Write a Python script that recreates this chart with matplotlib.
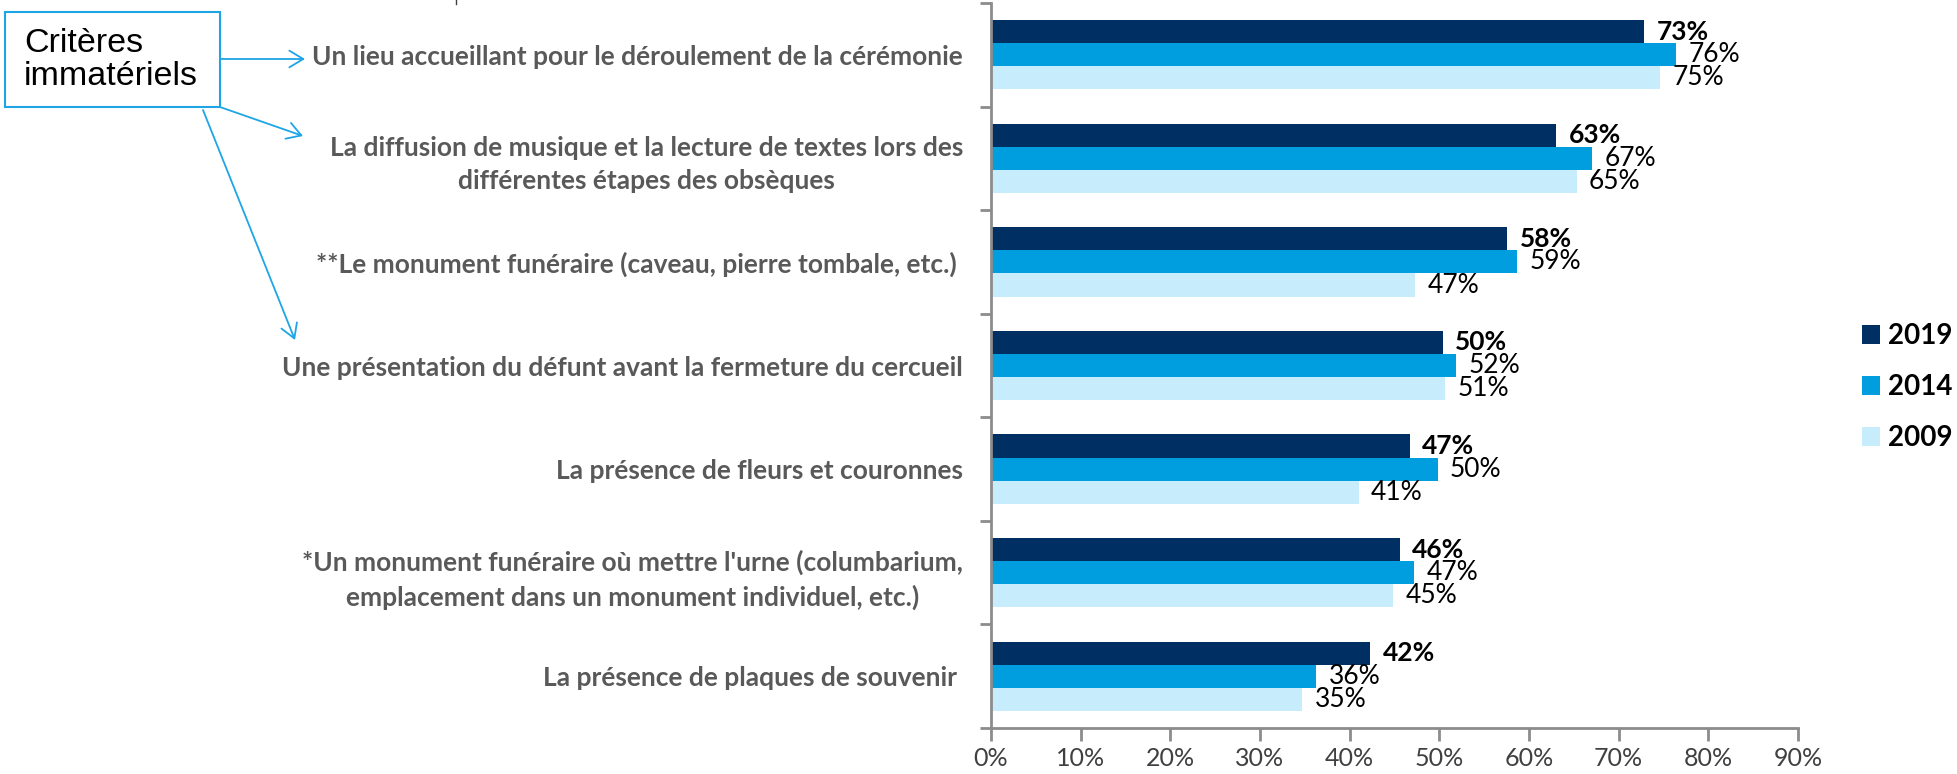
import matplotlib.pyplot as plt
from matplotlib.patches import Rectangle, FancyArrowPatch
from matplotlib.ticker import FuncFormatter

categories = [
    "Un lieu accueillant pour le déroulement de la cérémonie",
    "La diffusion de musique et la lecture de textes lors des\ndifférentes étapes des obsèques",
    "**Le monument funéraire (caveau, pierre tombale, etc.) ",
    "Une présentation du défunt avant la fermeture du cercueil",
    "La présence de fleurs et couronnes",
    "*Un monument funéraire où mettre l'urne (columbarium,\nemplacement dans un monument individuel, etc.)",
    "La présence de plaques de souvenir ",
]
years = ["2019", "2014", "2009"]
v2019 = [72.8, 63.0, 57.6, 50.4, 46.7, 45.6, 42.3]
v2014 = [76.4, 67.0, 58.7, 51.9, 49.8, 47.2, 36.3]
v2009 = [74.6, 65.3, 47.3, 50.6, 41.0, 44.8, 34.7]
xticks = [0, 10, 20, 30, 40, 50, 60, 70, 80, 90]

colors = ["#003063", "#009ddf", "#c7ecfc"]
axis_gray = "#8c8c8c"
label_gray = "#595959"
arrow_blue = "#1ea5e6"

W, H = 1957, 774
fig = plt.figure(figsize=(W / 100, H / 100), dpi=100)
ax = fig.add_axes([991 / W, 1 - 728 / H, (1798 - 991) / W, (728 - 3) / H])

bar_h = 0.223
series = [v2019, v2014, v2009]
for k, (vals, col, yr) in enumerate(zip(series, colors, years)):
    ys = [i + (k - 1) * bar_h for i in range(len(categories))]
    bars = ax.barh(ys, vals, height=bar_h, color=col, label=yr, edgecolor="none")
    for b, v in zip(bars, vals):
        ax.annotate(
            f"{round(v)}%",
            (b.get_width(), b.get_y() + b.get_height() / 2),
            xytext=(9, 0),
            textcoords="offset points",
            va="center",
            ha="left",
            fontsize=19,
            family="Lato",
            fontweight="bold" if k == 0 else "normal",
            color="black",
        )

ax.set_xlim(0, 90)
ax.set_ylim(len(categories) - 0.5, -0.5)

# ticks at category boundaries, labels at centers
ax.set_yticks([i - 0.5 for i in range(len(categories) + 1)])
ax.set_yticklabels([])
ax.set_yticks(range(len(categories)), minor=True)
ax.set_yticklabels(categories, minor=True)
ax.tick_params(axis="y", which="major", length=8, width=2, color=axis_gray, direction="out")
ax.tick_params(axis="y", which="minor", length=0, pad=20)
for t in ax.get_yticklabels(minor=True):
    t.set_family("Lato")
    t.set_fontweight("bold")
    t.set_fontsize(19)
    t.set_color(label_gray)
    t.set_multialignment("center")
    t.set_linespacing(1.45)

ax.set_xticks(xticks)
ax.xaxis.set_major_formatter(FuncFormatter(lambda x, p: f"{int(x)}%"))
ax.tick_params(axis="x", length=9, width=2, color=axis_gray, pad=5, labelsize=18, labelcolor="#404040")
for t in ax.get_xticklabels():
    t.set_family("Lato")

for s in ["top", "right"]:
    ax.spines[s].set_visible(False)
for s in ["left", "bottom"]:
    ax.spines[s].set_color(axis_gray)
    ax.spines[s].set_linewidth(2)

leg = ax.legend(
    loc="center left",
    bbox_to_anchor=(1862 / W, 1 - 387 / H),
    bbox_transform=fig.transFigure,
    frameon=False,
    prop={"family": "Lato", "weight": "bold", "size": 20},
    handlelength=0.65,
    handleheight=0.65,
    handletextpad=0.3,
    labelspacing=0.9,
    borderpad=0,
    borderaxespad=0,
)

# overlay in pixel coords for the annotation box and arrows
ov = fig.add_axes([0, 0, 1, 1])
ov.set_xlim(0, W)
ov.set_ylim(H, 0)
ov.axis("off")
ov.add_patch(Rectangle((5, 12), 215, 95, fill=False, edgecolor=arrow_blue, linewidth=1.5))
ov.text(24, 60, "Critères\nimmatériels", family="Liberation Sans", fontsize=24.5,
        va="center", ha="left", color="black", linespacing=1.1)
arrows = [((220, 59), (305, 59)), ((220, 107), (303, 136)), ((203, 110), (295, 340))]
for a, b in arrows:
    ov.add_patch(FancyArrowPatch(a, b, arrowstyle="->,head_length=0.5,head_width=0.3",
                                 mutation_scale=20, color=arrow_blue, linewidth=1.3,
                                 shrinkA=0, shrinkB=0))
ov.plot([456, 456], [0, 4], color="#404040", linewidth=1)

fig.savefig("out.png", dpi=100)
